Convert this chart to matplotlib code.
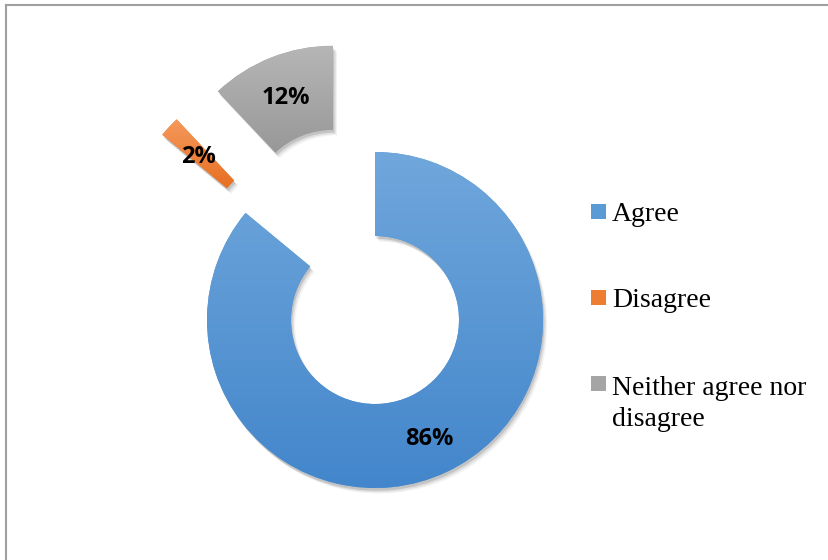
import numpy as np
import matplotlib.pyplot as plt
from matplotlib.colors import LinearSegmentedColormap
from matplotlib.patches import Rectangle
from matplotlib.lines import Line2D
import matplotlib.patheffects as pe

# survey responses (percent)
labels = ['Agree', 'Disagree', 'Neither agree nor\ndisagree']
values = [86, 2, 12]
explode = [0, 0.68, 0.68]

# gradient colours per slice: (bottom, top)
grad_colors = [('#4386cb', '#70a7dc'), ('#e86f22', '#f4995c'), ('#989898', '#b6b6b6')]
mid_colors = ['#5b9bd5', '#ed7d31', '#a5a5a5']

W, H = 829, 560
px = 168.0          # pixels per unit radius
cx, cy = 375, 320   # donut centre in pixels (from top-left)

fig = plt.figure(figsize=(W / 100, H / 100), dpi=100)
ax = fig.add_axes([0, 0, 1, 1])

shadow = [pe.SimplePatchShadow(offset=(o, -o - 1), shadow_rgbFace='k', alpha=a)
          for o, a in [(3, 0.05), (2, 0.08), (1, 0.12)]] + [pe.Normal()]

wedges, texts, autotexts = ax.pie(
    values, colors=mid_colors, startangle=90, counterclock=False,
    explode=explode, radius=1, autopct='%.0f%%', pctdistance=0.76,
    wedgeprops=dict(width=0.5, linewidth=0, path_effects=shadow),
    textprops=dict(fontfamily='Open Sans', fontweight='bold', fontsize=17,
                   color='black'))

# vertical gradient fill clipped to each slice
grad = np.linspace(0, 1, 256).reshape(-1, 1)
for w, (c0, c1) in zip(wedges, grad_colors):
    bb = w.get_path().get_extents()
    cmap = LinearSegmentedColormap.from_list('g', [c0, c1])
    im = ax.imshow(grad, extent=[bb.x0, bb.x1, bb.y0, bb.y1], origin='lower',
                   cmap=cmap, aspect='auto', zorder=w.get_zorder() + 0.1)
    im.set_clip_path(w)
for t in autotexts:
    t.set_zorder(5)
    t.set_va('center_baseline')

ax.set_xlim(-cx / px, (W - cx) / px)
ax.set_ylim(-(H - cy) / px, cy / px)
ax.set_aspect('equal')
ax.axis('off')

# legend drawn by hand on the right; marker sits on the first text line
leg_y = [212, 298, 384]
line_gap = 33
for lab, col, y in zip(labels, mid_colors, leg_y):
    fig.patches.append(Rectangle((591 / W, 1 - (y + 7) / H), 15 / W, 15 / H,
                                 transform=fig.transFigure, facecolor=col,
                                 edgecolor='none'))
    base = y + 9 + line_gap * lab.count('\n')
    fig.text(612 / W, 1 - base / H, lab, fontfamily='Liberation Serif',
             fontsize=20, va='baseline', ha='left', linespacing=1.3)

# outer frame
fig.add_artist(Line2D([6 / W, 1], [1 - 5 / H, 1 - 5 / H], color='#a0a0a0',
                      lw=1.5, transform=fig.transFigure))
fig.add_artist(Line2D([6 / W, 6 / W], [0, 1 - 5 / H], color='#a0a0a0',
                      lw=1.5, transform=fig.transFigure))

fig.savefig('out.png', dpi=100)
